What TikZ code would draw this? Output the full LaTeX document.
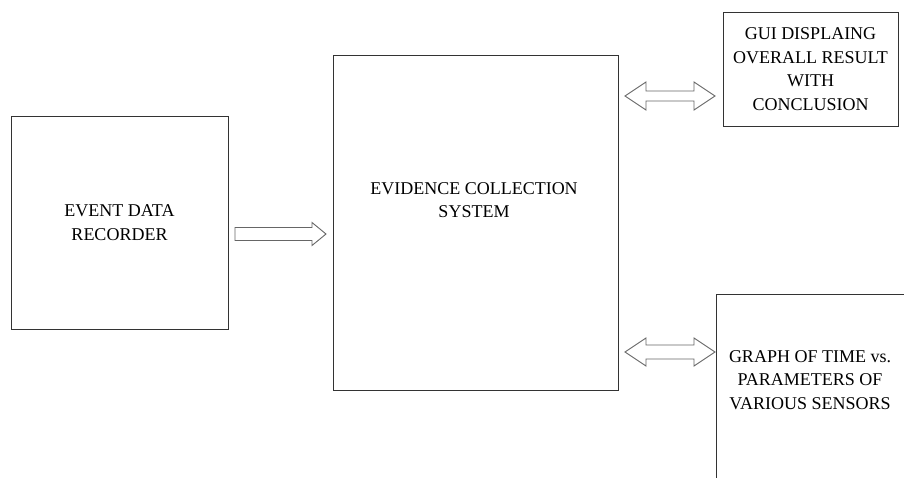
\documentclass[tikz,border=0pt]{standalone}
\usepackage{fontspec}
\setmainfont{Liberation Serif}
\begin{document}
\begin{tikzpicture}[x=1pt,y=-1pt,
  box/.style={draw=black!80, line width=1pt, rectangle, inner sep=0pt, align=center, font=\fontsize{18}{23.5}\selectfont},
  lbl/.style={align=center, inner sep=0pt, font=\fontsize{18}{23.5}\selectfont},
  blk/.style={draw=black!60, line width=0.9pt, fill=white, line join=miter},
  rarrow/.pic={\draw[blk] (0,-6.5) -- (77,-6.5) -- (77,-11.5) -- (91,0) -- (77,11.5) -- (77,6.5) -- (0,6.5) -- cycle;},
  darrow/.pic={\draw[blk] (0,0) -- (21,-14) -- (21,-#1) -- (69,-#1) -- (69,-14) -- (90,0) -- (69,14) -- (69,#1) -- (21,#1) -- (21,14) -- cycle;}]
\useasboundingbox (0,0) rectangle (904,477);
\clip (0,0) rectangle (904,477);
% boxes
\node[box, minimum width=217pt, minimum height=213pt] (edr) at (119.5,222.5) {EVENT DATA\\RECORDER};
\node[box, minimum width=285pt, minimum height=335pt] (ecs) at (475.5,222.5) {};
\node[lbl] (ecst) at (474,200) {EVIDENCE COLLECTION\\SYSTEM};
\node[box, minimum width=175pt, minimum height=114pt] (gui) at (810.5,69) {GUI DISPLAING\\OVERALL RESULT\\WITH\\CONCLUSION};
\node[box, minimum width=200pt, minimum height=200pt] (graph) at (816,394) {};
\node[lbl] (grapht) at (810,380) {GRAPH OF TIME vs.\\PARAMETERS OF\\VARIOUS SENSORS};
% block arrows
\pic at (235,234) {rarrow};
\pic at (625,96) {darrow=5};
\pic at (625,352) {darrow=7};
\end{tikzpicture}
\end{document}
